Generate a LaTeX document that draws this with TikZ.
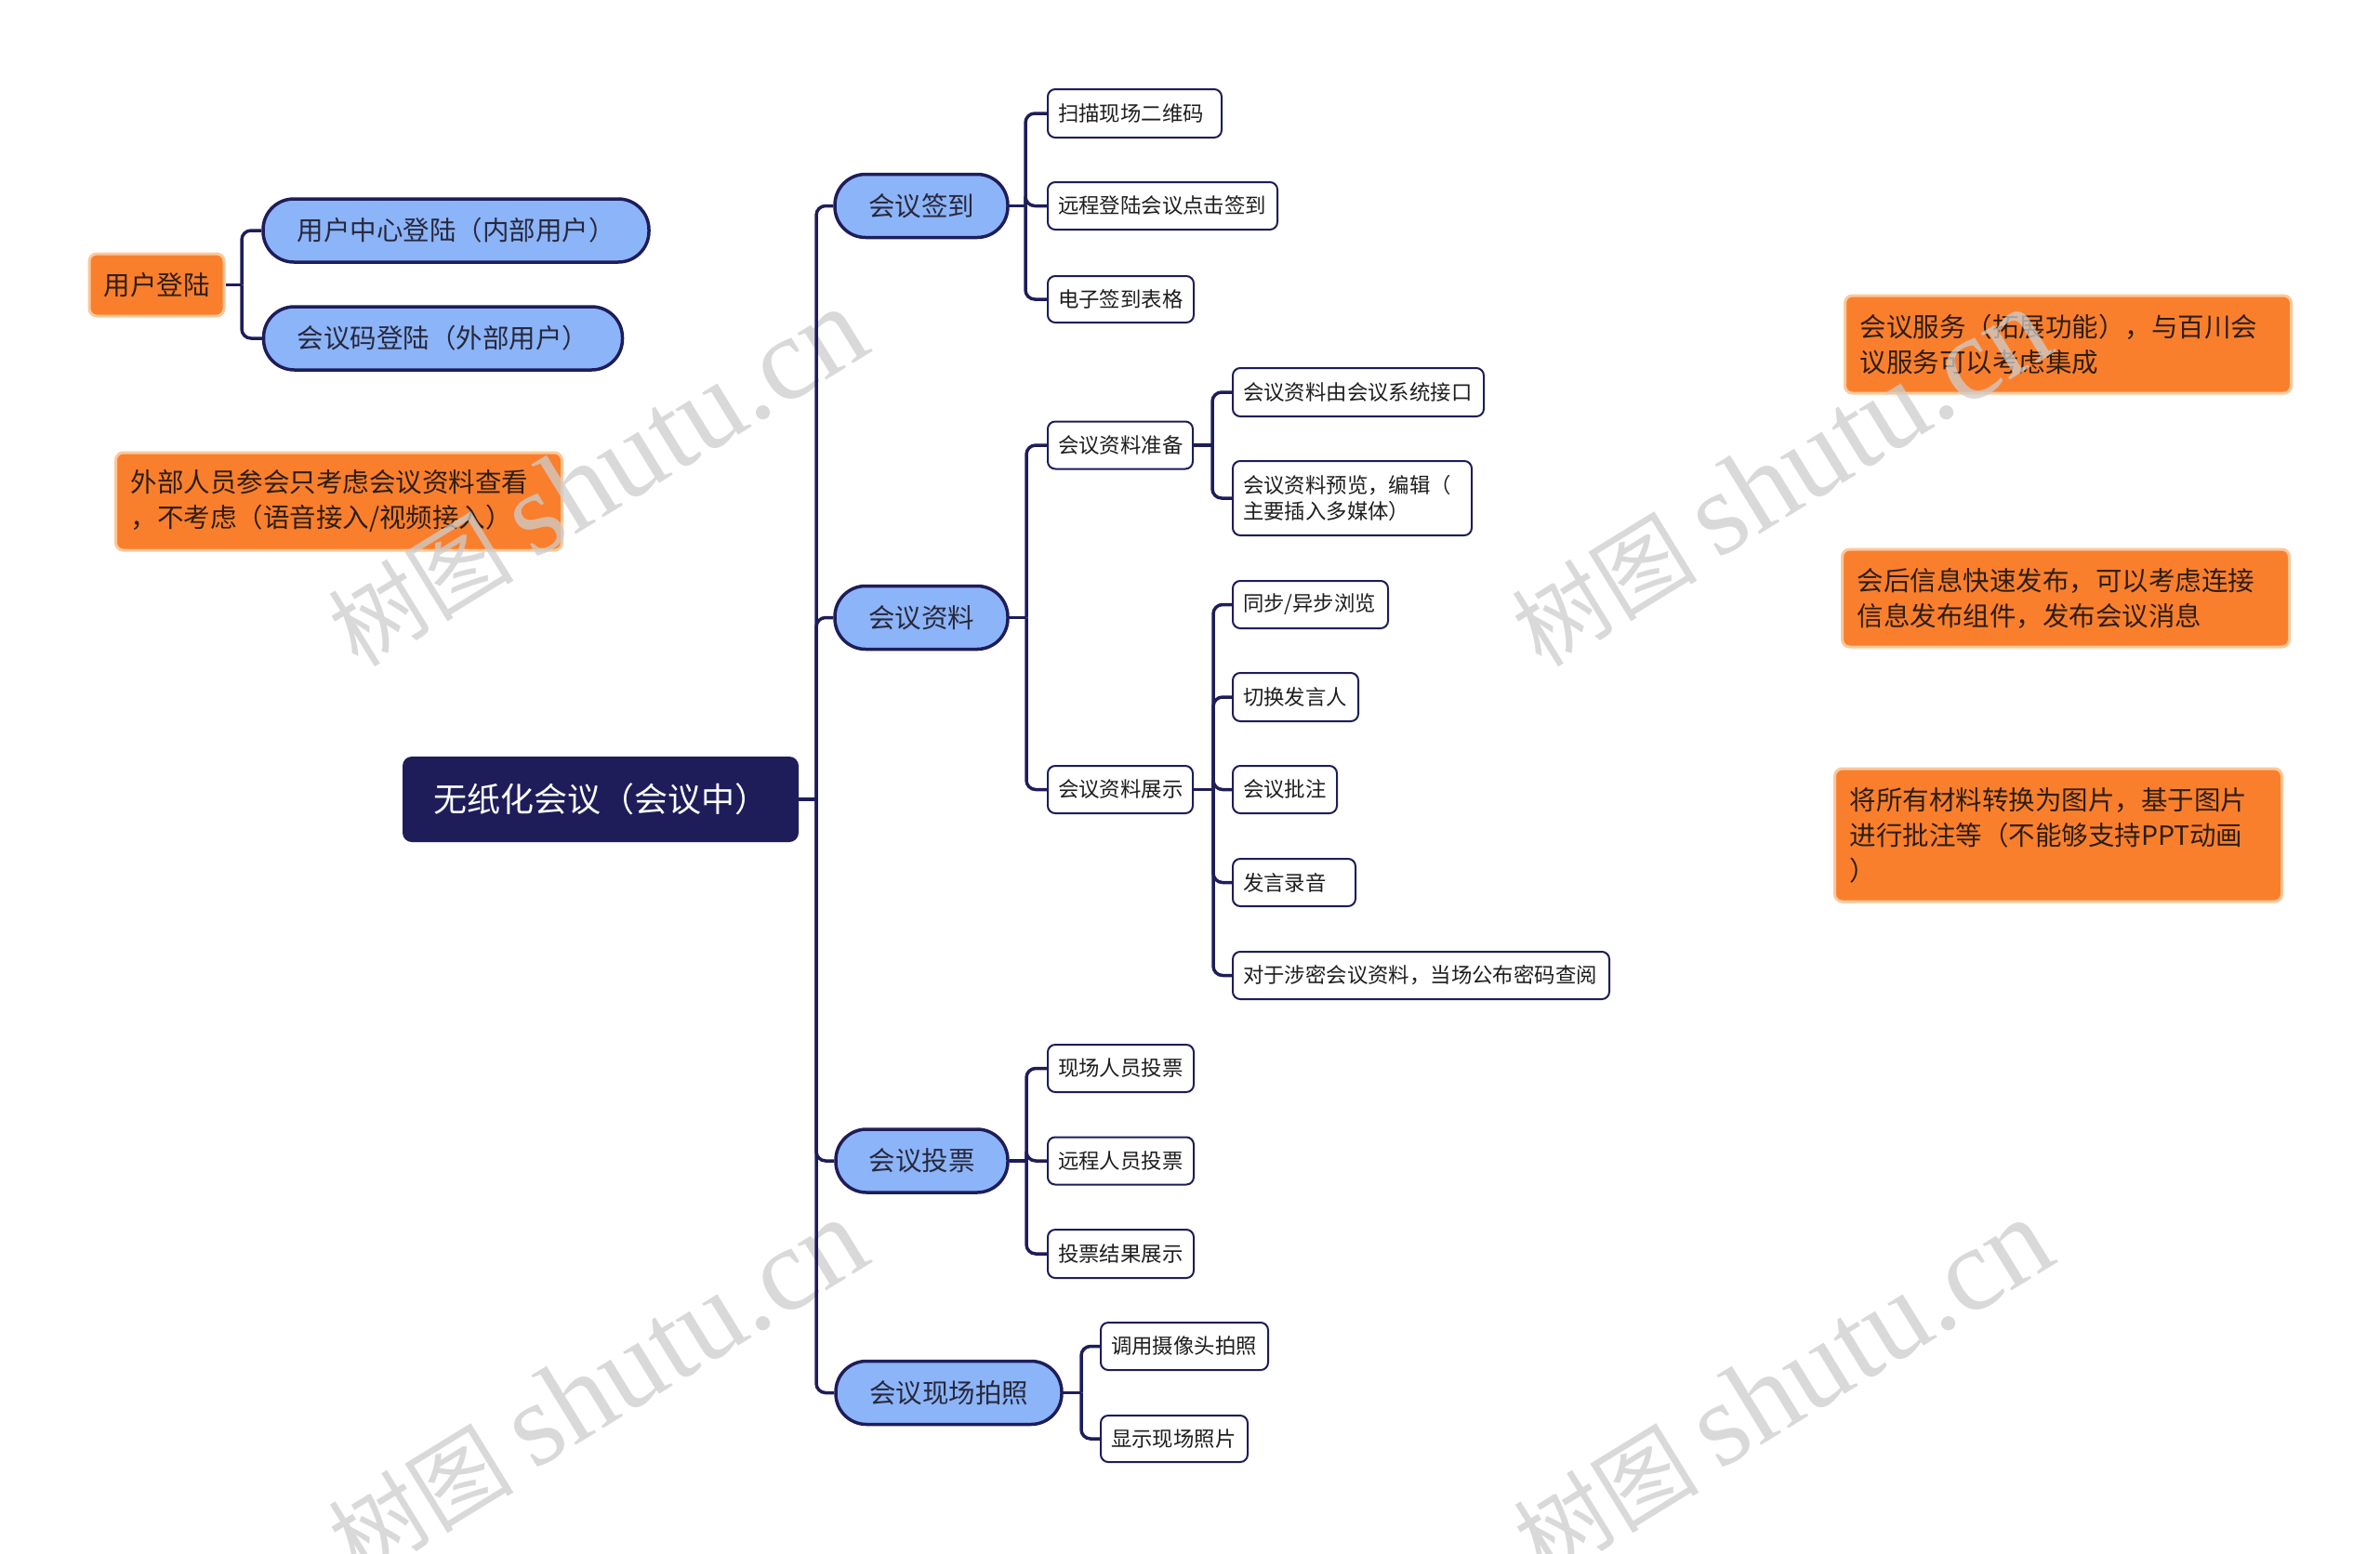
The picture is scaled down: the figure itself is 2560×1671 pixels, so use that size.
\documentclass[tikz,border=0pt]{standalone}
\usepackage{fontspec}
\setmainfont{Noto Sans CJK SC}
\newfontfamily\wmserif{Liberation Serif}
\newcommand\myfs[2]{\fontsize{#1}{#2}\selectfont}
\definecolor{navy}{RGB}{30,29,90}
\definecolor{pblue}{RGB}{140,180,248}
\definecolor{ptext}{RGB}{40,40,60}
\definecolor{ltext}{RGB}{30,30,30}
\definecolor{norange}{RGB}{250,127,45}
\definecolor{nborder}{RGB}{251,200,155}
\definecolor{ntext}{RGB}{45,30,20}
\definecolor{wmgray}{RGB}{205,205,205}
\begin{document}
\begin{tikzpicture}[x=1pt,y=-1pt,
  rootbox/.style={fill=navy, rounded corners=10pt, text=white, font=\myfs{36}{44}, minimum width=426pt, minimum height=92pt, inner sep=0pt},
  pill/.style={draw=navy, line width=3.5pt, fill=pblue, rounded corners=33pt, minimum height=68pt, inner sep=0pt, font=\myfs{28.5}{34}, text=ptext},
  leaf/.style={draw=navy, line width=2pt, fill=white, rounded corners=8pt, font=\myfs{22.4}{28}, text=ltext, align=left, inner xsep=11pt, inner ysep=0pt, anchor=west},
  note/.style={draw=nborder, line width=3pt, fill=norange, rounded corners=8pt, font=\myfs{28.5}{38}, text=ntext, align=left, inner xsep=16pt, inner ysep=0pt, anchor=west},
  conn/.style={draw=navy, line width=3.5pt, rounded corners=10pt},
  wm/.style={text=wmgray, opacity=0.75, font=\myfs{100}{100}, rotate=31.6}
]
\fill[white] (0,0) rectangle (2560,1671);
\useasboundingbox (0,0) rectangle (2560,1671);

% root
\node[rootbox] (root) at (646,860) {无纸化会议（会议中）};

% level 1
\node[pill, minimum width=186pt] (qd) at (991,221.5) {会议签到};
\node[pill, minimum width=186pt] (zl) at (991,664.5) {会议资料};
\node[pill, minimum width=185pt] (tp) at (991.5,1249) {会议投票};
\node[pill, minimum width=243pt] (pz) at (1020.5,1498.5) {会议现场拍照};

% 会议签到 children
\node[leaf, text width=165pt, minimum height=52pt] (qd1) at (1126,122) {扫描现场二维码};
\node[leaf, text width=225pt, minimum height=51pt] (qd2) at (1126,221.5) {远程登陆会议点击签到};
\node[leaf, text width=135pt, minimum height=50pt] (qd3) at (1126,322) {电子签到表格};

% 会议资料 children
\node[leaf, text width=134pt, minimum height=51pt] (zl1) at (1126,479) {会议资料准备};
\node[leaf, text width=134pt, minimum height=51pt] (zl2) at (1126,849.5) {会议资料展示};
\node[leaf, text width=248pt, minimum height=52pt] (zl11) at (1325,422) {会议资料由会议系统接口};
\node[leaf, text width=235pt, minimum height=80pt] (zl12) at (1325,536) {会议资料预览，编辑（\\主要插入多媒体）};
\node[leaf, text width=145pt, minimum height=51pt] (zl21) at (1325,650.5) {同步/异步浏览};
\node[leaf, text width=113pt, minimum height=52pt] (zl22) at (1325,750) {切换发言人};
\node[leaf, text width=90pt, minimum height=51pt] (zl23) at (1325,849.5) {会议批注};
\node[leaf, text width=110pt, minimum height=51pt] (zl24) at (1325,949.5) {发言录音};
\node[leaf, text width=383pt, minimum height=51pt] (zl25) at (1325,1049.5) {对于涉密会议资料，当场公布密码查阅};

% 会议投票 children
\node[leaf, text width=135pt, minimum height=51pt] (tp1) at (1126,1149.5) {现场人员投票};
\node[leaf, text width=135pt, minimum height=51pt] (tp2) at (1126,1249) {远程人员投票};
\node[leaf, text width=135pt, minimum height=52pt] (tp3) at (1126,1349) {投票结果展示};

% 会议现场拍照 children
\node[leaf, text width=158pt, minimum height=51pt] (pz1) at (1183,1448.5) {调用摄像头拍照};
\node[leaf, text width=136pt, minimum height=50pt] (pz2) at (1183,1548) {显示现场照片};

% left side
\node[fill=norange, draw=nborder, line width=3pt, rounded corners=8pt, font=\myfs{28.5}{34}, text=ntext, minimum width=145pt, minimum height=67pt, inner sep=0pt] (yh) at (168.5,306.5) {用户登陆};
\node[pill, minimum width=415pt] (p1) at (490.5,248) {用户中心登陆（内部用户）};
\node[pill, minimum width=386pt] (p2) at (476.5,364) {会议码登陆（外部用户）};
\node[note, text width=448pt, minimum height=105pt] (wb) at (123,539.5) {外部人员参会只考虑会议资料查看\\，不考虑（语音接入/视频接入）};

% right notes
\node[note, text width=448pt, minimum height=105pt] (n1) at (1983,370.5) {会议服务（拓展功能），与百川会\\议服务可以考虑集成};
\node[note, text width=449pt, minimum height=105pt] (n2) at (1980,643.5) {会后信息快速发布，可以考虑连接\\信息发布组件，发布会议消息};
\node[note, text width=449pt, minimum height=143pt] (n3) at (1972,898.5) {将所有材料转换为图片，基于图片\\进行批注等（不能够支持PPT动画\\）};

% junctions
\coordinate (rj) at (878,860);
\coordinate (qdj) at (1103,221.5);
\coordinate (zlj) at (1104,664.5);
\coordinate (zl1j) at (1304,479);
\coordinate (zl2j) at (1305,849.5);
\coordinate (tpj) at (1104,1249);
\coordinate (pzj) at (1163,1498.5);
\coordinate (yhj) at (260,306.5);

% watermarks (behind the connectors, over the boxes)
\node[wm] (wm1) at (642,514) {树图 {\wmserif\myfs{128}{128}shutu.cn}};
\node[wm] (wm2) at (1915,514) {树图 {\wmserif\myfs{128}{128}shutu.cn}};
\node[wm] (wm3) at (642,1494) {树图 {\wmserif\myfs{128}{128}shutu.cn}};
\node[wm] (wm4) at (1917,1494) {树图 {\wmserif\myfs{128}{128}shutu.cn}};

% connectors
\draw[conn] (root.east) -- (rj);
\foreach \c in {qd,zl,tp,pz} \draw[conn] (rj) |- (\c.west);

\draw[conn] (qd.east) -- (qdj);
\foreach \c in {qd1,qd2,qd3} \draw[conn] (qdj) |- (\c.west);

\draw[conn] (zl.east) -- (zlj);
\foreach \c in {zl1,zl2} \draw[conn] (zlj) |- (\c.west);

\draw[conn] (zl1.east) -- (zl1j);
\foreach \c in {zl11,zl12} \draw[conn] (zl1j) |- (\c.west);

\draw[conn] (zl2.east) -- (zl2j);
\foreach \c in {zl21,zl22,zl23,zl24,zl25} \draw[conn] (zl2j) |- (\c.west);

\draw[conn] (tp.east) -- (tpj);
\foreach \c in {tp1,tp2,tp3} \draw[conn] (tpj) |- (\c.west);

\draw[conn] (pz.east) -- (pzj);
\foreach \c in {pz1,pz2} \draw[conn] (pzj) |- (\c.west);

\draw[conn] (yh.east) -- (yhj);
\foreach \c in {p1,p2} \draw[conn] (yhj) |- (\c.west);
\end{tikzpicture}
\end{document}
